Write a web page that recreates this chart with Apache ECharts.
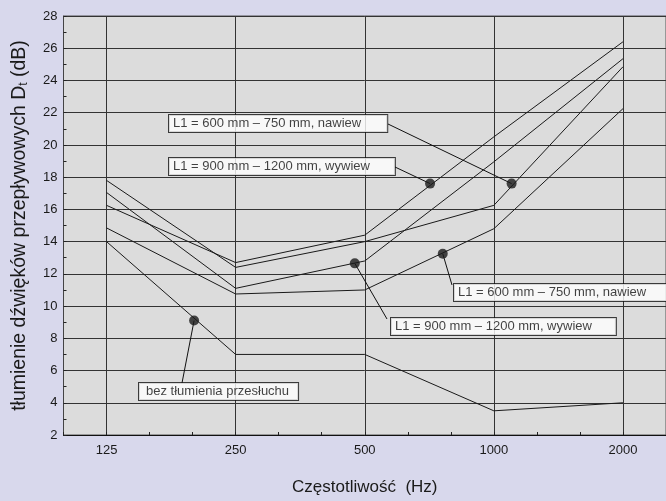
<!DOCTYPE html>
<html><head><meta charset="utf-8">
<script src="https://cdn.jsdelivr.net/npm/echarts@6/dist/echarts.min.js"></script>
<style>html,body{margin:0;padding:0;background:#d8d8ec;} #c{width:666px;height:501px;}</style>
</head><body><div id="c"></div>
<script>
// ---- data ----
const frequencies = [125, 250, 500, 1000, 2000];          // Hz (octave bands)
const yTicks = [2, 4, 6, 8, 10, 12, 14, 16, 18, 20, 22, 24, 26, 28];
const lineA = [17.8, 12.4, 14.0, 16.25, 24.85];
const lineB = [16.25, 12.7, 14.4, 20.5, 26.4];
const lineC = [17.05, 11.1, 12.8, 18.95, 25.35];
const lineD = [14.85, 10.75, 11.0, 14.8, 22.25];
const lineBez = [14.0, 7.0, 7.0, 3.5, 4.0];
// call-out markers (frequency, value) and their texts
const calloutFreq = [1100, 710, 760, 474, 200];
const calloutVal = [17.6, 17.6, 13.25, 12.65, 9.1];
const calloutText = [
  'L1 = 600 mm \u2013 750 mm, nawiew',
  'L1 = 900 mm \u2013 1200 mm, wywiew',
  'L1 = 600 mm \u2013 750 mm, nawiew',
  'L1 = 900 mm \u2013 1200 mm, wywiew',
  'bez t\u0142umienia przes\u0142uchu'
];
// ---- layout (pixel positions of call-out boxes and leader attach points) ----
const boxPos = [[169, 115], [169, 158], [454, 284], [391, 318], [139, 383]];
const boxPad = [[1, 26, 1, 4], [1, 25, 1, 4], [1, 26, 1, 4], [1, 24, 1, 4], [1, 9, 1, 7]];
const leaderEnd = [[388, 124], [395, 167], [452, 285], [387, 319], [182, 383]];

const REF = 125;
const FONT = 'Liberation Sans, Arial, sans-serif';
const chart = echarts.init(document.getElementById('c'), null, {renderer: 'canvas'});

function mkLine(name, vals) {
  return {
    type: 'line', name: name, xAxisIndex: 0, yAxisIndex: 0,
    data: frequencies.map((f, i) => [f / REF, vals[i]]),
    symbol: 'none', lineStyle: {color: '#1a1a1a', width: 1}, z: 3, silent: true
  };
}

const calloutData = calloutFreq.map((f, i) => ({
  value: [f / REF, calloutVal[i]],
  label: {formatter: calloutText[i], padding: boxPad[i]}
}));
const leaderData = calloutFreq.map((f, i) => [
  {coord: [f / REF, calloutVal[i]]},
  {x: leaderEnd[i][0], y: leaderEnd[i][1]}
]);

chart.setOption({
  backgroundColor: '#d8d8ec',
  animation: false,
  grid: {left: 63.5, top: 16, width: 608.5, height: 421.4, show: true,
         backgroundColor: '#dcdcdc', borderColor: '#555', borderWidth: 1, containLabel: false},
  xAxis: [{
    type: 'log', logBase: 2, min: Math.pow(2, -1/3), max: Math.pow(2, 13/3),
    position: 'bottom',
    name: 'Cz\u0119stotliwo\u015b\u0107  (Hz)', nameLocation: 'middle', nameGap: 44,
    nameTextStyle: {fontFamily: FONT, fontSize: 17, color: '#1a1a1a'},
    axisLine: {show: true, onZero: false, lineStyle: {color: '#111', width: 1}},
    axisTick: {show: false},
    axisLabel: {fontFamily: FONT, fontSize: 13, color: '#1a1a1a', margin: 9,
      showMinLabel: false, showMaxLabel: false,
      formatter: v => String(Math.round(v * REF))},
    splitLine: {show: true, lineStyle: {color: '#333', width: 1}}
  }, {
    type: 'value', min: -1, max: 13, interval: 1, position: 'bottom',
    axisLine: {show: false, onZero: false}, axisLabel: {show: false}, splitLine: {show: false},
    axisTick: {show: true, inside: true, length: 3, lineStyle: {color: '#222'}}
  }],
  yAxis: {
    type: 'value', min: yTicks[0], max: yTicks[yTicks.length - 1], interval: 2,
    name: '{a|t\u0142umienie d\u017awi\u0119k\u00f3w przep\u0142ywowych D}{s|t}{a| (dB)}',
    nameLocation: 'middle', nameRotate: 90, nameGap: 34,
    nameTextStyle: {rich: {
      a: {fontFamily: FONT, fontSize: 19.5, color: '#1a1a1a'},
      s: {fontFamily: FONT, fontSize: 12, color: '#1a1a1a', verticalAlign: 'bottom'}
    }},
    axisLine: {show: true, onZero: false, lineStyle: {color: '#444', width: 1}},
    axisTick: {show: true, inside: true, length: 3, lineStyle: {color: '#222'}},
    minorTick: {show: true, splitNumber: 2, length: 3, lineStyle: {color: '#222'}},
    axisLabel: {fontFamily: FONT, fontSize: 13, color: '#1a1a1a', margin: 6},
    splitLine: {show: true, lineStyle: {color: '#333', width: 1}}
  },
  series: [
    mkLine('A', lineA), mkLine('B', lineB), mkLine('C', lineC), mkLine('D', lineD),
    mkLine('bez', lineBez),
    {
      type: 'scatter', xAxisIndex: 0, yAxisIndex: 0, data: calloutData,
      symbol: 'circle', symbolSize: 10, itemStyle: {color: '#1a1a1a'}, z: 5, silent: true,
      label: {show: true, fontFamily: FONT, fontSize: 13, color: '#111', lineHeight: 15,
        backgroundColor: '#ffffff', borderColor: '#111', borderWidth: 1},
      labelLayout: p => ({x: boxPos[p.dataIndex][0], y: boxPos[p.dataIndex][1],
        align: 'left', verticalAlign: 'top'}),
      markLine: {silent: true, symbol: ['none', 'none'], animation: false,
        label: {show: false}, lineStyle: {color: '#111', width: 1, type: 'solid'},
        emphasis: {disabled: true}, data: leaderData}
    }
  ]
});
</script></body></html>
